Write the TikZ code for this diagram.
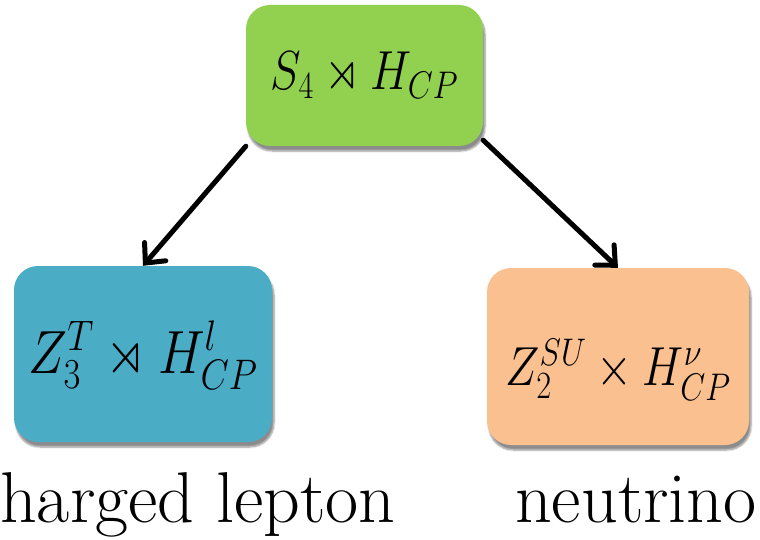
\RequirePackage{fix-cm}
\documentclass[tikz,border=0pt]{standalone}
\usepackage{amsmath,amssymb,graphicx}
\usepackage{fontspec}
\newfontfamily\capfont{Latin Modern Roman}
\usetikzlibrary{arrows.meta,shadows.blur}
\definecolor{boxgreen}{HTML}{92D050}
\definecolor{boxaqua}{HTML}{4BACC6}
\definecolor{boxorange}{HTML}{FAC090}
\tikzset{
  groupbox/.style={rectangle, rounded corners=24pt, inner sep=0pt,
    blur shadow={shadow xshift=2pt, shadow yshift=-5pt, shadow blur steps=6, shadow opacity=45}},
  link/.style={line width=5pt, line cap=round, -{Straight Barb[length=15pt,width=28pt,line cap=round]}},
  grouplabel/.style={anchor=base, inner sep=0pt},
  caption/.style={anchor=base west, inner sep=0pt, font=\capfont\fontsize{72}{80}\selectfont}
}
\begin{document}
\begin{tikzpicture}[x=1pt,y=-1pt]
\useasboundingbox (0,0) rectangle (760,540);
\node[groupbox, fill=boxgreen, minimum width=237pt, minimum height=141pt] (top) at (364.5,75.5) {};
\node[groupbox, fill=boxaqua, minimum width=258pt, minimum height=176pt] (left) at (143,354) {};
\node[groupbox, fill=boxorange, minimum width=262pt, minimum height=177pt] (right) at (618,356.5) {};
\node[grouplabel, font=\fontsize{55}{60}\selectfont] (toptext) at (364.5,90)
  {\scalebox{0.84}[1]{$S_{4} \rtimes H_{CP}$}};
\node[grouplabel, font=\fontsize{61}{66}\selectfont] (lefttext) at (143,373)
  {\scalebox{0.86}[1]{$Z^{T}_{3} \rtimes H^{l}_{CP}$}};
\node[grouplabel, font=\fontsize{55}{60}\selectfont] (righttext) at (618,385)
  {\scalebox{0.84}[1]{$Z^{SU}_{2} \times H^{\nu}_{CP}$}};
\draw[link] (top.south west) -- (left.north);
\draw[link] ([yshift=6pt]top.south east) -- (right.north);
\node[caption] (charged) at (0,522) {harged lepton};
\node[caption] (neutrino) at (515,522) {neutrino};
\end{tikzpicture}
\end{document}
